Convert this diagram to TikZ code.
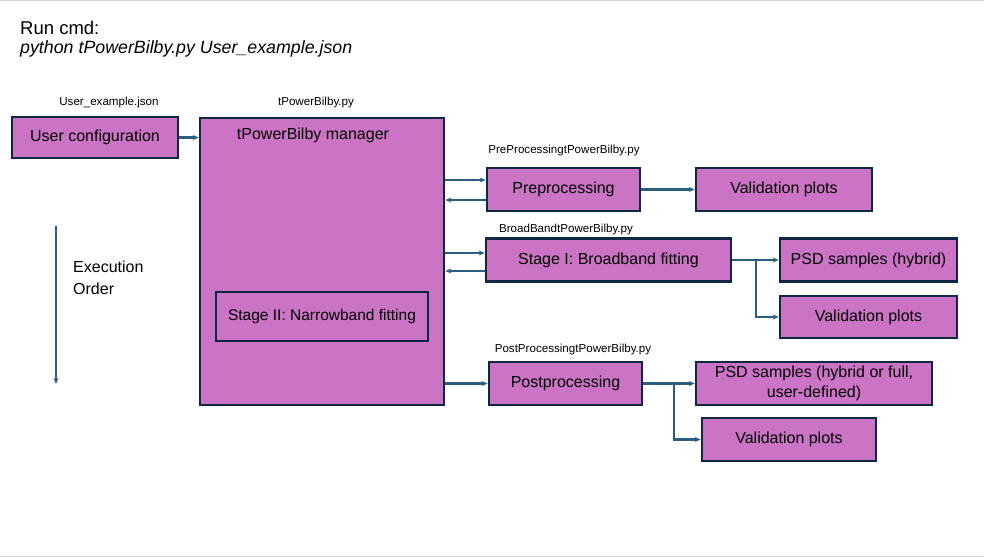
\documentclass[tikz,border=0pt]{standalone}
\usepackage{fontspec}
\setmainfont{Liberation Sans}
\usetikzlibrary{arrows.meta}

\definecolor{boxfill}{RGB}{203,115,196}
\definecolor{boxline}{RGB}{14,40,65}
\definecolor{arrline}{RGB}{42,94,130}

\begin{document}
\begin{tikzpicture}[x=1pt,y=-1pt,
            box/.style={draw=boxline,fill=boxfill,line width=2.6pt,inner sep=0pt,
                        font=\fontsize{16}{19}\selectfont,align=center},
            lbl/.style={font=\fontsize{11.6}{13}\selectfont,inner sep=0pt},
            arr/.style={draw=arrline,line width=2.1pt,-{Stealth[length=6pt,width=5pt]}}]
            \useasboundingbox (0,0) rectangle (984,557);
            \draw[color=black!15,line width=1pt] (0,0.5) -- (984,0.5);
            \draw[color=black!15,line width=1pt] (0,556) -- (984,556);

            \node[anchor=west,inner sep=0pt,font=\fontsize{18.5}{21}\selectfont] (run) at (20,28) {Run cmd:};
            \node[anchor=west,inner sep=0pt,font=\fontsize{17.8}{21}\selectfont\itshape] (cmd) at (20,49) {python tPowerBilby.py User\_example.json};

            \node[lbl] (ucfglbl) at (109,102) {User\_example.json};
            \node[lbl] (mgrlbl) at (316,102) {tPowerBilby.py};
            \node[lbl] (prelbl) at (564,150) {PreProcessingtPowerBilby.py};
            \node[lbl] (s1lbl) at (566,229) {BroadBandtPowerBilby.py};
            \node[lbl] (postlbl) at (573,349) {PostProcessingtPowerBilby.py};

            \node[box,minimum width=166,minimum height=41] (ucfg) at (95,137.5) {User configuration};
            \node[box,minimum width=244,minimum height=287] (mgr) at (322,261.5) {};
            \node[inner sep=0pt,font=\fontsize{16}{19}\selectfont] (mgrtxt) at (313,135) {tPowerBilby manager};
            \node[box,minimum width=212,minimum height=49,font=\fontsize{15.5}{18}\selectfont] (s2) at (322,316.5) {Stage II: Narrowband fitting};

            \node[box,minimum width=153,minimum height=43] (pre) at (563.5,189.5) {Preprocessing};
            \node[box,minimum width=176,minimum height=43] (val1) at (784,189.5) {Validation plots};
            \node[box,minimum width=245,minimum height=43] (s1) at (608.5,260) {Stage I: Broadband fitting};
            \node[box,minimum width=177,minimum height=43] (psd1) at (868.5,260) {PSD samples (hybrid)};
            \node[box,minimum width=177,minimum height=42] (val2) at (868.5,317) {Validation plots};
            \node[box,minimum width=153,minimum height=43] (post) at (565.5,383.5) {Postprocessing};
            \node[box,minimum width=236,minimum height=43,font=\fontsize{16}{20}\selectfont] (psd3) at (814,383.5) {PSD samples (hybrid or full,\\ user-defined)};
            \node[box,minimum width=174,minimum height=43] (val3) at (789,439.5) {Validation plots};

            \coordinate (etop) at (56,226);
            \coordinate (ebot) at (56,384);
            \draw[arr] (etop) -- (ebot);
            \node[anchor=west,inner sep=0pt,align=left,font=\fontsize{16}{22}\selectfont] (eord) at (73,278) {Execution\\Order};

            \draw[arr] (ucfg) -- (mgr.west |- ucfg);
            \draw[arr] ([yshift=9.5pt]pre.west -| mgr.east) -- ([yshift=9.5pt]pre.west);
            \draw[arr] ([yshift=-10.5pt]pre.west) -- ([yshift=-10.5pt]pre.west -| mgr.east);
            \draw[arr] (pre) -- (val1);
            \draw[arr] ([yshift=7pt]s1.west -| mgr.east) -- ([yshift=7pt]s1.west);
            \draw[arr] ([yshift=-11pt]s1.west) -- ([yshift=-11pt]s1.west -| mgr.east);
            \draw[arr] (s1) -- (psd1);
            \draw[arr] ([xshift=24pt]s1.east) |- (val2.west);
            \draw[arr] (post.west -| mgr.east) -- (post.west);
            \draw[arr] (post) -- (psd3);
            \draw[arr] ([xshift=31pt]post.east) |- (val3.west);
        \end{tikzpicture}
\end{document}
